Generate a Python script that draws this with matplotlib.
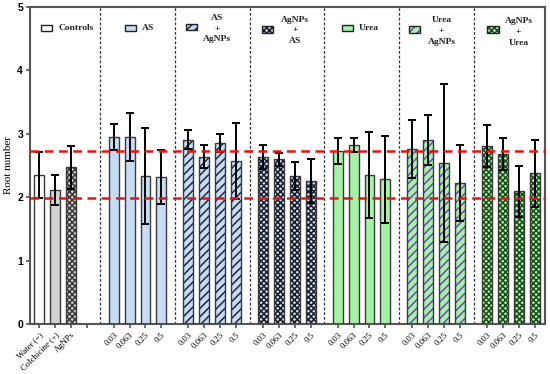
import matplotlib
matplotlib.use('Agg')
import matplotlib.pyplot as plt
from matplotlib.patches import Rectangle
from matplotlib.transforms import blended_transform_factory

# ---------------- data ----------------
control_labels = ['Water (−)', 'Colchicine (+)', 'AgNPs']
control_means = [2.35, 2.11, 2.47]
control_errs = [0.36, 0.24, 0.34]

concentrations = ['0.03', '0.063', '0.25', '0.5']
group_names = ['AS', 'AS\n+\nAgNPs', 'AgNPs\n+\nAS', 'Urea', 'Urea\n+\nAgNPs', 'AgNPs\n+\nUrea']
as_means = [2.95, 2.95, 2.33, 2.32]
as_errs = [0.21, 0.38, 0.76, 0.43]
as_agnps_means = [2.91, 2.64, 2.85, 2.57]
as_agnps_errs = [0.15, 0.18, 0.14, 0.60]
agnps_as_means = [2.64, 2.60, 2.34, 2.26]
agnps_as_errs = [0.19, 0.10, 0.22, 0.35]
urea_means = [2.73, 2.83, 2.35, 2.28]
urea_errs = [0.20, 0.11, 0.68, 0.68]
urea_agnps_means = [2.76, 2.90, 2.54, 2.22]
urea_agnps_errs = [0.46, 0.39, 1.24, 0.60]
agnps_urea_means = [2.81, 2.68, 2.09, 2.38]
agnps_urea_errs = [0.33, 0.25, 0.40, 0.53]

ref_upper = 2.73
ref_lower = 1.98

# ---------------- style ----------------
plt.rcParams['hatch.linewidth'] = 1.1
SERIF = ['Liberation Serif', 'DejaVu Serif']
EDGE = '#3a3a3a'
BLUE = '#c6dcf4'
GREEN = '#a6f2a6'

fig = plt.figure(figsize=(5.5, 3.74), dpi=100)
ax = fig.add_axes([30 / 550, 1 - 324 / 374, 515 / 550, 317 / 374])

W = 0.62
GAP = 4.7


def draw_bar(x, h, err, face, hatch=None, hcolor=None):
    ax.bar(x, h, width=W, color=face, edgecolor=hcolor if hcolor else face,
           hatch=hatch, linewidth=0, zorder=2)
    ax.bar(x, h, width=W, fill=False, edgecolor=EDGE, linewidth=1.0, zorder=3)
    ax.errorbar(x, h, yerr=err, fmt='none', ecolor='black', elinewidth=1.4,
                capsize=3, capthick=1.4, zorder=4)


# controls
control_styles = [('white', None, None), ('#d2d2d2', None, None), ('#cfcfcf', 'xxxxxx', '#3a3a3a')]
tick_pos = []
tick_lab = []
for i, (m, e, lab) in enumerate(zip(control_means, control_errs, control_labels)):
    f, h, hc = control_styles[i]
    draw_bar(i, m, e, f, h, hc)
    tick_pos.append(i)
    tick_lab.append(lab)
tick_pos.append(3)
tick_lab.append('')

group_means = [as_means, as_agnps_means, agnps_as_means, urea_means, urea_agnps_means, agnps_urea_means]
group_errs = [as_errs, as_agnps_errs, agnps_as_errs, urea_errs, urea_agnps_errs, agnps_urea_errs]
group_styles = [
    (BLUE, None, None),
    (BLUE, '////', '#1c2838'),
    (BLUE, 'xxxxxx', '#1a1a26'),
    (GREEN, None, None),
    (GREEN, '////', '#6a48b8'),
    (GREEN, 'xxxxxx', '#1c4a1c'),
]

for g, (means, errs) in enumerate(zip(group_means, group_errs)):
    start = GAP * (g + 1)
    f, h, hc = group_styles[g]
    for i, (m, e) in enumerate(zip(means, errs)):
        draw_bar(start + i, m, e, f, h, hc)
        tick_pos.append(start + i)
        tick_lab.append(concentrations[i])
    # divider before the group
    ax.axvline(start - 0.85, color='#333333', lw=0.9, ls=(0, (2.2, 1.6)), zorder=1)

# reference lines
for yv in (ref_upper, ref_lower):
    ax.axhline(yv, color='#ee1111', lw=1.8, ls=(0, (3.5, 2.2)), zorder=5)

# legend-like labels
tr = blended_transform_factory(ax.transData, ax.transAxes)
legend_specs = [
    # (box_x, box_y, text, text_x, text_y, ha, face, hatch, hcolor)
    (0.47, 0.934, 'Controls', 1.2, 0.934, 'left', 'white', None, None),
    (5.77, 0.934, 'AS', 6.49, 0.934, 'left', BLUE, None, None),
    (9.58, 0.937, 'AS\n+\nAgNPs', 11.22, 0.932, 'center', BLUE, '////', '#1c2838'),
    (14.37, 0.928, 'AgNPs\n+\nAS', 16.13, 0.926, 'center', BLUE, 'xxxxxx', '#1a1a26'),
    (19.41, 0.934, 'Urea', 20.1, 0.934, 'left', GREEN, None, None),
    (23.63, 0.928, 'Urea\n+\nAgNPs', 25.33, 0.924, 'center', GREEN, '////', '#6a48b8'),
    (28.58, 0.928, 'AgNPs\n+\nUrea', 30.18, 0.921, 'center', GREEN, 'xxxxxx', '#1c4a1c'),
]
bw, bh = 0.70, 0.021
for bx, by, txt, tx, ty, ha, f, h, hc in legend_specs:
    ax.add_patch(Rectangle((bx - bw / 2, by - bh / 2), bw, bh, transform=tr,
                           facecolor=f, edgecolor=hc if hc else f, hatch=h, lw=0, zorder=6))
    ax.add_patch(Rectangle((bx - bw / 2, by - bh / 2), bw, bh, transform=tr,
                           fill=False, edgecolor='#222222', lw=1.0, zorder=7))
    ax.text(tx, ty, txt, transform=tr, ha=ha, va='center', fontsize=6.8,
            family=SERIF, fontweight='bold', linespacing=1.45, color='#222222', zorder=7)

# axes
ax.set_xlim(-0.57, 31.85)
ax.set_ylim(0, 5)
ax.set_yticks([0, 1, 2, 3, 4, 5])
ax.set_yticklabels(['0', '1', '2', '3', '4', '5'], fontweight='bold', fontsize=7.5,
                   family=['Liberation Sans', 'DejaVu Sans'])
ax.set_xticks(tick_pos)
ax.set_xticklabels(tick_lab, rotation=45, ha='right', rotation_mode='anchor',
                   fontsize=6.2, family=SERIF)
ax.set_ylabel('Root number', family=SERIF, fontsize=8, labelpad=3)
for s in ax.spines.values():
    s.set_color('#555555')
    s.set_linewidth(1.5)
ax.tick_params(axis='both', direction='out', length=3, width=1.2, color='#555555', pad=2)

fig.savefig('out.png', dpi=100)
